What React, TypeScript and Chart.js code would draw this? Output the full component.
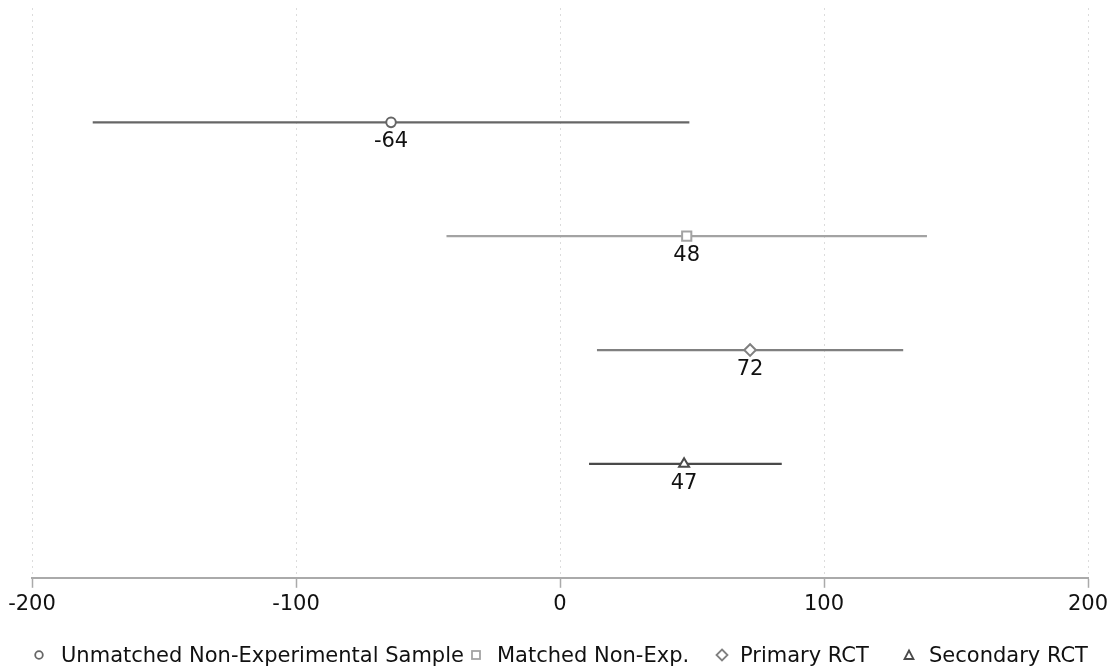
import React, { useEffect, useRef } from "react";
import { Chart, registerables } from "chart.js";

Chart.register(...registerables);

const seriesNames = [
  "Unmatched Non-Experimental Sample",
  "Matched Non-Exp.",
  "Primary RCT",
  "Secondary RCT",
];
const estimates = [-64, 48, 72, 47];
const lowerBounds = [-177, -43, 14, 11];
const upperBounds = [49, 139, 130, 84];
const rowPositions = [1, 2, 3, 4];
const seriesColors = ["#666666", "#a3a3a3", "#808080", "#4a4a4a"];
const markerStyles = ["circle", "rect", "rectRot", "triangle"];
const markerRadii = [4.8, 6.5, 5.8, 5.8];
const xTickValues = [-200, -100, 0, 100, 200];

const FONT = "'DejaVu Sans', 'Noto Sans', sans-serif";

const valueLabelPlugin = {
  id: "valueLabels",
  afterDatasetsDraw(chart: any) {
    const ctx = chart.ctx;
    ctx.save();
    ctx.font = `21px ${FONT}`;
    ctx.fillStyle = "#111111";
    ctx.textAlign = "center";
    ctx.textBaseline = "alphabetic";
    chart.data.datasets.forEach((ds: any, i: number) => {
      if (ds.role !== "estimate") return;
      const meta = chart.getDatasetMeta(i);
      meta.data.forEach((el: any, j: number) => {
        const v = ds.data[j].x;
        ctx.fillText(String(v), el.x, el.y + 25);
      });
    });
    ctx.restore();
  },
};

function LegendMarker({ kind, color }: { kind: string; color: string }) {
  const common = { stroke: color, strokeWidth: 1.8, fill: "#fff" };
  let shape: any = null;
  if (kind === "circle") shape = <circle cx={7} cy={7} r={3.8} {...common} />;
  else if (kind === "rect") shape = <rect x={3} y={3} width={8} height={8} {...common} />;
  else if (kind === "rectRot") shape = <polygon points="7,1.5 12.5,7 7,12.5 1.5,7" {...common} />;
  else shape = <polygon points="7,2.5 11.5,11 2.5,11" {...common} />;
  return (
    <svg width={14} height={14} style={{ display: "block" }}>
      {shape}
    </svg>
  );
}

const legendMarkerCenters = [39, 476, 722, 909];
const legendTextLefts = [61, 497, 740, 929];

export default function App() {
  const canvasRef = useRef<HTMLCanvasElement | null>(null);

  useEffect(() => {
    if (!canvasRef.current) return;
    const datasets: any[] = [];
    seriesNames.forEach((name, i) => {
      datasets.push({
        type: "line",
        label: name + " CI",
        role: "ci",
        data: [
          { x: lowerBounds[i], y: rowPositions[i] },
          { x: upperBounds[i], y: rowPositions[i] },
        ],
        borderColor: seriesColors[i],
        borderWidth: 2.2,
        pointRadius: 0,
        showLine: true,
        fill: false,
        order: 2,
      });
    });
    seriesNames.forEach((name, i) => {
      datasets.push({
        type: "scatter",
        label: name,
        role: "estimate",
        data: [{ x: estimates[i], y: rowPositions[i] }],
        pointStyle: markerStyles[i],
        pointRadius: markerRadii[i],
        pointBorderWidth: 2,
        borderColor: seriesColors[i],
        backgroundColor: "#ffffff",
        order: 1,
      });
    });

    const chart = new Chart(canvasRef.current, {
      type: "scatter",
      data: { datasets },
      plugins: [valueLabelPlugin],
      options: {
        animation: false,
        responsive: true,
        maintainAspectRatio: false,
        layout: { padding: { left: 32, right: 30, top: 8, bottom: 48 } },
        plugins: {
          legend: { display: false },
          tooltip: { enabled: false },
          title: { display: false },
        },
        scales: {
          x: {
            type: "linear",
            min: -200,
            max: 200,
            afterBuildTicks: (axis: any) => {
              axis.ticks = xTickValues.map((v) => ({ value: v }));
            },
            ticks: {
              color: "#111111",
              font: { family: FONT, size: 21 },
              padding: 4,
              maxRotation: 0,
              callback: (v: any) => String(v),
            },
            grid: {
              color: "#b8b8b8",
              lineWidth: 1,
              drawTicks: true,
              tickLength: 10,
              tickColor: "#aaaaaa",
              tickWidth: 1.5,
            },
            border: {
              display: true,
              color: "#aaaaaa",
              width: 2,
              dash: [1, 5],
            },
          },
          y: {
            type: "linear",
            min: 0,
            max: 5,
            reverse: true,
            display: false,
          },
        },
      } as any,
    });
    return () => chart.destroy();
  }, []);

  return (
    <div
      style={{
        position: "fixed",
        left: 0,
        top: 0,
        width: 1118,
        height: 669,
        background: "#ffffff",
        fontFamily: FONT,
      }}
    >
      <canvas ref={canvasRef} style={{ width: "100%", height: "100%" }} />
      {seriesNames.map((name, i) => (
        <React.Fragment key={name}>
          <div
            style={{
              position: "absolute",
              left: legendMarkerCenters[i] - 7,
              top: 655 - 7,
            }}
          >
            <LegendMarker kind={markerStyles[i]} color={seriesColors[i]} />
          </div>
          <div
            style={{
              position: "absolute",
              left: legendTextLefts[i],
              top: 645,
              fontSize: 21,
              lineHeight: "21px",
              whiteSpace: "nowrap",
              color: "#111111",
            }}
          >
            {name}
          </div>
        </React.Fragment>
      ))}
    </div>
  );
}
